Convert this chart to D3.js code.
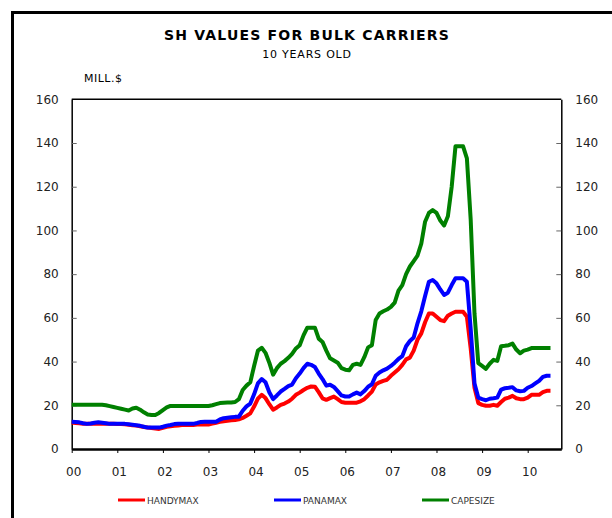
<!DOCTYPE html>
<html>
<head>
<meta charset="utf-8">
<script src="https://cdn.jsdelivr.net/npm/d3@7"></script>
<style>
  body { margin: 0; background: #fff; }
  svg { display: block; font-family: "DejaVu Sans", Verdana, sans-serif; }
</style>
</head>
<body>
<svg id="chart" width="612" height="518"></svg>
<script>
// monthly values, Jan 2000 .. Jul 2010 (MILL.$)
const startYear = 2000;
const yearTicks = [2000, 2001, 2002, 2003, 2004, 2005, 2006, 2007, 2008, 2009, 2010];
const valueTicks = [0, 20, 40, 60, 80, 100, 120, 140, 160];

const handymax = [
  12.1, 11.9, 11.8, 11.6, 11.5, 11.5, 11.5, 11.5, 11.5, 11.5, 11.5, 11.5,
  11.4, 11.4, 11.3, 11.1, 10.9, 10.7, 10.4, 10.1, 9.8, 9.6, 9.4, 9.2,
  9.7, 10.2, 10.4, 10.6, 10.8, 11.0, 11.0, 11.0, 11.0, 11.2, 11.2, 11.2,
  11.2, 11.6, 12.0, 12.4, 12.7, 12.9, 13.1, 13.3, 13.6, 14.2, 15.2, 16.3,
  19.4, 23.0, 24.8, 23.3, 20.5, 18.0, 19.0, 20.2, 20.8, 21.7, 23.0, 24.8,
  25.8, 27.0, 28.0, 28.6, 28.5, 26.0, 23.2, 22.5, 23.3, 24.0, 22.8, 21.5,
  21.2, 21.2, 21.2, 21.2, 21.8, 22.8, 24.5, 26.3, 29.5, 30.5, 31.2, 31.7,
  33.5, 35.0, 36.5, 38.5, 41.0, 41.8, 45.0, 50.0, 52.9, 58.0, 62.0, 62.0,
  60.5, 59.0, 58.5, 61.0, 62.0, 62.8, 62.8, 62.8, 60.5, 46.0, 28.0, 21.0,
  20.2, 19.8, 19.8, 20.2, 19.8, 21.5, 23.0, 23.5, 24.3, 23.2, 22.8, 22.8,
  23.5, 24.8, 24.8, 24.8, 26.0, 26.6, 26.6
];

const panamax = [
  12.5, 12.4, 12.2, 11.8, 11.5, 11.7, 12.0, 12.2, 12.0, 11.8, 11.5, 11.5,
  11.5, 11.5, 11.5, 11.3, 11.1, 10.9, 10.6, 10.2, 9.8, 9.8, 9.8, 9.8,
  10.2, 10.7, 11.0, 11.4, 11.5, 11.5, 11.5, 11.5, 11.5, 11.9, 12.4, 12.5,
  12.5, 12.5, 12.5, 13.5, 14.1, 14.3, 14.5, 14.7, 14.8, 17.5, 19.5, 20.8,
  25.0, 30.0, 32.0, 30.5, 26.0, 22.8, 24.5, 26.3, 27.5, 28.8, 29.5, 32.4,
  34.5, 37.0, 39.0, 38.5, 37.5, 34.5, 32.0, 29.0, 29.4, 28.4, 26.5, 24.5,
  24.0, 24.0, 25.0, 25.8, 25.0, 26.5, 28.5, 29.6, 33.5, 35.0, 36.0, 36.8,
  38.0, 39.5, 41.2, 42.5, 47.0, 49.4, 51.0, 57.5, 63.0, 70.0, 76.5, 77.3,
  75.8, 73.0, 70.5, 71.5, 75.0, 78.1, 78.1, 78.1, 76.5, 55.0, 30.0, 23.5,
  22.8, 22.3, 23.0, 23.2, 23.5, 27.2, 27.8, 28.0, 28.3, 26.8, 26.4, 26.6,
  28.0, 28.8, 30.0, 31.2, 33.0, 33.5, 33.5
];

const capesize = [
  20.2, 20.2, 20.2, 20.2, 20.2, 20.2, 20.2, 20.2, 20.2, 20.0, 19.6, 19.2,
  18.8, 18.4, 18.0, 17.6, 18.5, 18.9, 18.0, 16.8, 15.8, 15.6, 15.6, 16.5,
  17.8, 19.0, 19.7, 19.7, 19.7, 19.7, 19.7, 19.7, 19.7, 19.7, 19.7, 19.7,
  19.7, 20.0, 20.5, 21.0, 21.2, 21.3, 21.3, 21.5, 22.8, 27.0, 29.0, 30.5,
  38.0, 45.0, 46.3, 44.0, 39.5, 34.0, 37.0, 39.0, 40.2, 41.7, 43.5, 46.0,
  47.5, 52.0, 55.5, 55.5, 55.5, 50.5, 49.0, 45.0, 41.5, 40.5, 39.5, 37.0,
  36.3, 36.0, 38.5, 39.0, 38.5, 42.0, 46.5, 47.5, 59.0, 62.0, 63.0, 63.8,
  65.0, 67.0, 72.5, 75.0, 80.0, 83.5, 86.0, 88.5, 94.0, 104.0, 108.0, 109.3,
  108.0, 104.5, 102.3, 106.5, 120.0, 138.5, 138.5, 138.5, 133.0, 105.0, 62.0, 39.3,
  38.0, 36.7, 39.0, 40.8, 40.3, 47.0, 47.2, 47.5, 48.2, 45.5, 43.8, 45.0,
  45.5, 46.2, 46.2, 46.2, 46.2, 46.2, 46.2
];

const series = [
  { name: 'HANDYMAX', values: handymax, color: '#ff0000' },
  { name: 'PANAMAX', values: panamax, color: '#0000ff' },
  { name: 'CAPESIZE', values: capesize, color: '#008000' }
];

const svg = d3.select('#chart');
const plotLeft = 71.7, plotRight = 561.3, plotTop = 99.3, plotBottom = 449;

// outer frame
svg.append('rect')
  .attr('x', 12.5).attr('y', 12.5)
  .attr('width', 620).attr('height', 530)
  .attr('fill', 'none').attr('stroke', '#000').attr('stroke-width', 3);

svg.append('text')
  .attr('x', 307).attr('y', 40)
  .attr('text-anchor', 'middle')
  .style('font-size', '14px').style('font-weight', 'bold')
  .style('letter-spacing', '1.2px')
  .text('SH VALUES FOR BULK CARRIERS');

svg.append('text')
  .attr('x', 307).attr('y', 57.5)
  .attr('text-anchor', 'middle')
  .style('font-size', '11px').style('letter-spacing', '0.8px')
  .text('10 YEARS OLD');

svg.append('text')
  .attr('x', 84).attr('y', 81.5)
  .style('font-size', '11px').style('letter-spacing', '0.5px')
  .text('MILL.$');

const x = d3.scaleLinear()
  .domain([startYear, startYear + 10.737])
  .range([plotLeft, plotRight]);

const y = d3.scaleLinear()
  .domain([0, 160])
  .range([plotBottom, plotTop]);

const xOf = i => x(startYear + i / 12);

// plot frame (top edge)
svg.append('line')
  .attr('x1', plotLeft).attr('x2', plotRight)
  .attr('y1', plotTop).attr('y2', plotTop)
  .attr('stroke', '#000').attr('stroke-width', 1.5);

const yLeft = svg.append('g')
  .attr('transform', 'translate(' + plotLeft + ',0)')
  .call(d3.axisLeft(y).tickValues(valueTicks).tickSize(-5).tickSizeOuter(0).tickPadding(13));

const yRight = svg.append('g')
  .attr('transform', 'translate(' + plotRight + ',0)')
  .call(d3.axisRight(y).tickValues(valueTicks).tickSize(-5).tickSizeOuter(0).tickPadding(14));

[yLeft, yRight].forEach(g => {
  g.select('.domain').attr('stroke', '#000').attr('stroke-width', 1.5);
  g.selectAll('.tick line').attr('stroke', '#666');
  g.selectAll('.tick').filter(d => d === 0 || d === 160).select('line').remove();
  g.selectAll('text').style('font-size', '12px').style('font-family', '"DejaVu Sans", sans-serif').attr('fill', '#222');
});

const xAxis = svg.append('g')
  .attr('transform', 'translate(0,' + plotBottom + ')')
  .call(d3.axisBottom(x).tickValues(yearTicks).tickSize(4).tickSizeOuter(0).tickPadding(14)
    .tickFormat(d => d3.format('02d')(d - startYear)));
xAxis.select('.domain').attr('stroke', '#000').attr('stroke-width', 2.5);
xAxis.selectAll('.tick line').attr('stroke', '#000');
xAxis.selectAll('text').style('font-size', '12px').style('font-family', '"DejaVu Sans", sans-serif').attr('fill', '#222').attr('dx', '1.5');

const line = d3.line()
  .x((d, i) => xOf(i))
  .y(d => y(d));

svg.selectAll('path.series')
  .data(series)
  .enter()
  .append('path')
  .attr('class', 'series')
  .attr('d', d => line(d.values))
  .attr('fill', 'none')
  .attr('stroke', d => d.color)
  .attr('stroke-width', 4)
  .attr('stroke-linejoin', 'round');

// legend
const legendX = [118, 274, 422];
const legend = svg.selectAll('g.legend')
  .data(series)
  .enter()
  .append('g')
  .attr('class', 'legend')
  .attr('transform', (d, i) => 'translate(' + legendX[i] + ',500)');
legend.append('line')
  .attr('x1', 0).attr('x2', 27)
  .attr('stroke', d => d.color).attr('stroke-width', 3);
legend.append('text')
  .attr('x', 29).attr('y', 3.5)
  .style('font-size', '9px').attr('fill', '#333')
  .text(d => d.name);
</script>
</body>
</html>
